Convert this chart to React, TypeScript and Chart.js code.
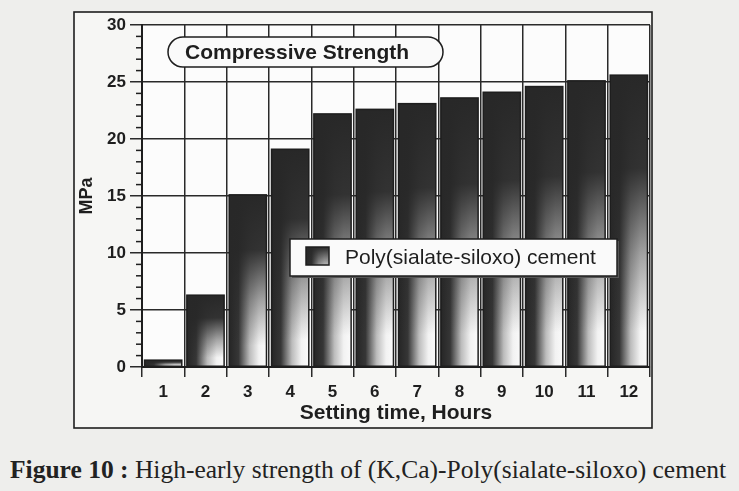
import React, { useEffect, useRef } from 'react';
import { Chart, registerables } from 'chart.js';

Chart.register(...registerables);

// ---- data ----
const hours = ['1', '2', '3', '4', '5', '6', '7', '8', '9', '10', '11', '12'];
const strength = [0.6, 6.3, 15.1, 19.1, 22.2, 22.6, 23.1, 23.6, 24.1, 24.6, 25.1, 25.6];
const seriesLabel = 'Poly(sialate-siloxo) cement';
const boxTitle = 'Compressive Strength';
const xTitle = 'Setting time, Hours';
const yTitle = 'MPa';
const yMin = 0;
const yMax = 30;
const yStep = 5;
const yMinorStep = 1;
const captionBold = 'Figure 10 :';
const captionRest = ' High-early strength of (K,Ca)-Poly(sialate-siloxo) cement';

const SANS = '"Liberation Sans", Arial, sans-serif';
const INK = '#1e1e1e';

function roundRect(c: CanvasRenderingContext2D, x: number, y: number, w: number, h: number, r: number) {
  c.beginPath();
  c.moveTo(x + r, y);
  c.lineTo(x + w - r, y);
  c.arc(x + w - r, y + r, r, -Math.PI / 2, Math.PI / 2);
  c.lineTo(x + r, y + h);
  c.arc(x + r, y + r, r, Math.PI / 2, (3 * Math.PI) / 2);
  c.closePath();
}

function barGradient(c: CanvasRenderingContext2D, l: number, w: number) {
  const g = c.createLinearGradient(l, 0, l + w, 0);
  g.addColorStop(0, '#262626');
  g.addColorStop(0.25, '#363636');
  g.addColorStop(0.55, '#bcbcbc');
  g.addColorStop(0.8, '#f2f2f2');
  g.addColorStop(1, '#fafafa');
  return g;
}

const decor = {
  id: 'decor',
  beforeDraw(chart: any) {
    const c: CanvasRenderingContext2D = chart.ctx;
    const a = chart.chartArea;
    c.save();
    c.fillStyle = '#eeeeec';
    c.fillRect(0, 0, chart.width, chart.height);
    c.fillStyle = '#f6f6f4';
    c.fillRect(74, 12, 578, 416);
    c.fillStyle = '#fcfcfc';
    c.fillRect(a.left, a.top, a.right - a.left, a.bottom - a.top);
    c.restore();
  },
  afterDatasetsDraw(chart: any) {
    const c: CanvasRenderingContext2D = chart.ctx;
    const meta = chart.getDatasetMeta(0);
    c.save();
    meta.data.forEach((el: any) => {
      const { x, y, base, width } = el.getProps(['x', 'y', 'base', 'width'], true);
      const l = x - width / 2;
      const h = base - y;
      const g = c.createLinearGradient(0, y, 0, base);
      g.addColorStop(0, 'rgba(40,40,40,1)');
      g.addColorStop(0.32, 'rgba(40,40,40,0.95)');
      g.addColorStop(0.62, 'rgba(40,40,40,0.4)');
      g.addColorStop(0.88, 'rgba(40,40,40,0)');
      g.addColorStop(1, 'rgba(40,40,40,0)');
      c.fillStyle = g;
      c.fillRect(l, y, width, h);
      c.strokeStyle = INK;
      c.lineWidth = 1.5;
      c.strokeRect(l, y, width, h);
    });
    c.restore();
  },
  afterDraw(chart: any) {
    const c: CanvasRenderingContext2D = chart.ctx;
    const ys = chart.scales.y;
    const a = chart.chartArea;
    c.save();
    // minor ticks
    c.strokeStyle = INK;
    c.lineWidth = 1.5;
    for (let v = yMin; v <= yMax; v += yMinorStep) {
      if (v % yStep === 0) continue;
      const py = ys.getPixelForValue(v);
      c.beginPath();
      c.moveTo(a.left - 6, py);
      c.lineTo(a.left, py);
      c.stroke();
    }
    // outer frame
    c.lineWidth = 1.6;
    c.strokeRect(74, 12, 578, 416);

    // title capsule
    roundRect(c, 168, 37, 275, 30, 15);
    c.fillStyle = '#fafafa';
    c.fill();
    c.lineWidth = 1.5;
    c.strokeStyle = INK;
    c.stroke();
    c.fillStyle = INK;
    c.font = `bold 21px ${SANS}`;
    c.textBaseline = 'middle';
    c.textAlign = 'left';
    c.fillText(boxTitle, 185, 53);

    // legend
    c.fillStyle = '#555';
    c.fillRect(292, 241, 327, 37);
    c.fillStyle = '#fafafa';
    c.fillRect(290, 239, 327, 37);
    c.strokeStyle = INK;
    c.lineWidth = 1.5;
    c.strokeRect(290, 239, 327, 37);
    c.fillStyle = barGradient(c, 306, 23);
    c.fillRect(306, 247, 23, 18);
    const g = c.createLinearGradient(0, 247, 0, 265);
    g.addColorStop(0, 'rgba(40,40,40,1)');
    g.addColorStop(1, 'rgba(40,40,40,0.3)');
    c.fillStyle = g;
    c.fillRect(306, 247, 23, 18);
    c.strokeRect(306, 247, 23, 18);
    c.fillStyle = INK;
    c.font = `21px ${SANS}`;
    c.fillText(chart.data.datasets[0].label, 345, 258);
    c.restore();
  },
};

export default function App() {
  const ref = useRef<HTMLCanvasElement>(null);
  useEffect(() => {
    if (!ref.current) return;
    const chart = new Chart(ref.current, {
      type: 'bar',
      data: {
        labels: hours,
        datasets: [
          {
            label: seriesLabel,
            data: strength,
            backgroundColor: (ctx: any) => {
              const ch = ctx.chart;
              const xs = ch.scales?.x;
              if (!ch.chartArea || !xs) return '#444';
              const cx = xs.getPixelForValue(ctx.dataIndex);
              const w = (xs.width / hours.length) * 0.88;
              return barGradient(ch.ctx, cx - w / 2, w);
            },
            borderColor: INK,
            borderWidth: 0,
            barPercentage: 0.88,
            categoryPercentage: 1,
          },
        ],
      },
      options: {
        responsive: false,
        animation: false,
        layout: { padding: { left: 74, right: 89, top: 25, bottom: 12 } },
        plugins: { legend: { display: false }, tooltip: { enabled: false }, title: { display: false } },
        scales: {
          x: {
            offset: true,
            grid: { offset: true, color: '#2a2a2a', lineWidth: 1.5, tickLength: 10, drawTicks: true },
            border: { color: INK, width: 2 },
            ticks: { color: INK, font: { family: SANS, size: 17, weight: 'bold' }, padding: 5 },
            title: {
              display: true,
              text: xTitle,
              color: INK,
              font: { family: SANS, size: 21, weight: 'bold' },
              padding: { top: 0, bottom: 2 },
            },
            afterFit: (s: any) => {
              s.height = 61;
            },
          },
          y: {
            min: yMin,
            max: yMax,
            ticks: { stepSize: yStep, color: INK, font: { family: SANS, size: 17, weight: 'bold' }, padding: 4 },
            grid: { color: '#2a2a2a', lineWidth: 1.5, tickLength: 12 },
            border: { color: INK, width: 2 },
            title: {
              display: true,
              text: yTitle,
              color: INK,
              font: { family: SANS, size: 18, weight: 'bold' },
              padding: { top: 2, bottom: 0 },
            },
            afterFit: (s: any) => {
              s.width = 68;
            },
          },
        },
      },
      plugins: [decor],
    } as any);
    return () => chart.destroy();
  }, []);

  return (
    <div style={{ position: 'absolute', left: 0, top: 0, width: 739, height: 491, background: '#eeeeec', overflow: 'hidden' }}>
      <canvas ref={ref} width={739} height={440} style={{ position: 'absolute', left: 0, top: 0, width: 739, height: 440 }} />
      <div
        style={{
          position: 'absolute',
          left: 10,
          top: 455,
          whiteSpace: 'nowrap',
          fontFamily: '"Liberation Serif", "Times New Roman", serif',
          fontSize: 25.5,
          color: '#222',
          lineHeight: '30px',
        }}
      >
        <b>{captionBold}</b>
        {captionRest}
      </div>
    </div>
  );
}
